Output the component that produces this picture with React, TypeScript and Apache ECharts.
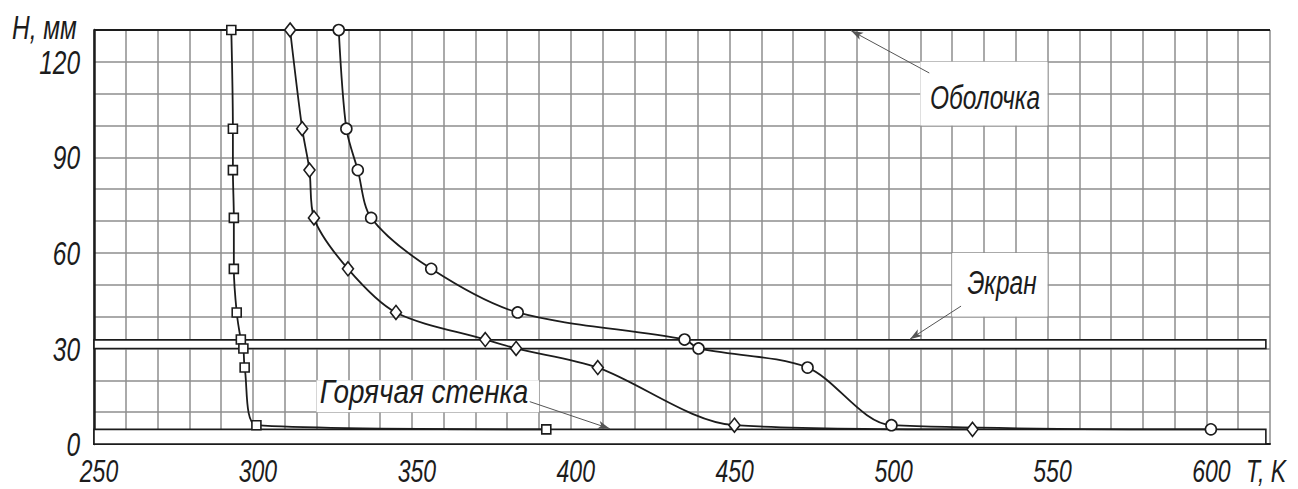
import React, { useEffect, useRef } from "react";
import * as echarts from "echarts";

// Heights of the measuring points, mm
const HEIGHTS = [130, 99, 86, 71, 55, 41.3, 32.8, 30, 24, 5.9, 4.6];
// Temperatures, K
const T_SQUARE = [293.2, 293.7, 293.7, 294.0, 294.0, 294.9, 296.2, 297.0, 297.4, 301.1, 392.3];
const T_DIAMOND = [311.7, 315.5, 317.8, 319.2, 329.9, 345.0, 373.1, 382.8, 408.5, 451.5, 526.4];
const T_CIRCLE = [327.0, 329.4, 333.0, 337.2, 356.1, 383.3, 435.8, 440.2, 474.5, 500.9, 601.4];

const X_TICKS = [250, 300, 350, 400, 450, 500, 550, 600];
const Y_TICKS = [0, 30, 60, 90, 120];

const SCREEN_BAND = [30, 32.7];
const WALL_BAND = [0, 4.6];
const SHELL_H = 130;

const FONT = "'Liberation Sans', Arial, sans-serif";
const INK = "#1c1c1c";
const FS = 34;
const SX = 0.72;

export default function App() {
  const ref = useRef<HTMLDivElement>(null);
  useEffect(() => {
    document.body.style.margin = "0";
    const chart = echarts.init(ref.current!, null, { renderer: "svg" });
    const zip = (ts: number[]) => ts.map((t, i) => [t, HEIGHTS[i]]);
    const lineBase = {
      type: "line",
      smooth: 0.3,
      lineStyle: { color: INK, width: 1.8 },
      itemStyle: { color: "#fff", borderColor: INK, borderWidth: 1.6 },
      z: 3,
      showSymbol: true,
    };
    const txt = (text: string, x: number, y: number, align = "center", sx = SX, fs = FS) => ({
      type: "text",
      z: 100,
      x,
      y,
      scaleX: sx,
      style: {
        text,
        x: 0,
        y: 0,
        fill: INK,
        fontSize: fs,
        fontStyle: "italic",
        fontFamily: FONT,
        textAlign: align,
        textVerticalAlign: "middle",
      },
    });
    chart.setOption({
      animation: false,
      grid: { left: 94, right: 28, top: 30, bottom: 45, containLabel: false },
      xAxis: {
        type: "value",
        min: 250,
        max: 620,
        interval: 10,
        axisLine: { show: true, lineStyle: { color: INK, width: 2 } },
        axisTick: { show: false },
        axisLabel: { show: false },
        splitLine: { show: true, lineStyle: { color: "#8e8e8e", width: 1.5 } },
      },
      yAxis: {
        type: "value",
        min: 0,
        max: 130,
        interval: 10,
        axisLine: { show: true, lineStyle: { color: INK, width: 2.5 } },
        axisTick: { show: false },
        axisLabel: { show: false },
        splitLine: { show: true, lineStyle: { color: "#8e8e8e", width: 1.5 } },
      },
      series: [
        {
          ...lineBase,
          name: "square",
          symbol: "rect",
          symbolSize: 9,
          data: zip(T_SQUARE),
          markArea: {
            silent: true,
            z: 1,
            itemStyle: { color: "#fff", borderColor: INK, borderWidth: 1.6 },
            data: [
              [{ xAxis: 250, yAxis: SCREEN_BAND[0] }, { xAxis: 618.7, yAxis: SCREEN_BAND[1] }],
              [{ xAxis: 250, yAxis: WALL_BAND[0] }, { xAxis: 618.7, yAxis: WALL_BAND[1] }],
              [{ xAxis: 510, yAxis: 100, itemStyle: { borderWidth: 0 } }, { xAxis: 550, yAxis: 120 }],
              [{ xAxis: 520, yAxis: 40, itemStyle: { borderWidth: 0 } }, { xAxis: 550, yAxis: 60 }],
              [{ xAxis: 320, yAxis: 10, itemStyle: { borderWidth: 0 } }, { xAxis: 390, yAxis: 20 }],
            ],
          },
        },
        {
          ...lineBase,
          name: "diamond",
          symbol: "diamond",
          symbolSize: [11, 14],
          data: zip(T_DIAMOND),
          markLine: {
            silent: true,
            z: 1,
            symbol: ["none", "none"],
            label: { show: false },
            lineStyle: { color: INK, width: 2.2, type: "solid" },
            data: [{ yAxis: SHELL_H }],
          },
        },
        {
          ...lineBase,
          name: "circle",
          symbol: "circle",
          symbolSize: 11,
          data: zip(T_CIRCLE),
          markLine: {
            silent: true,
            z: 6,
            symbol: ["none", "arrow"],
            symbolSize: [6, 12],
            label: { show: false },
            lineStyle: { color: "#555", width: 1, type: "solid" },
            data: [
              [{ coord: [512.8, 116.5] }, { coord: [488.2, 129.8] }],
              [{ coord: [522.8, 43.3] }, { coord: [506.7, 32.9] }],
              [{ coord: [387.1, 13.3] }, { coord: [412.3, 4.8] }],
            ],
          },
        },
      ],
    });

    const labels: any[] = [];
    X_TICKS.forEach((v) => {
      const p = chart.convertToPixel({ gridIndex: 0 }, [v, 0]) as number[];
      labels.push(txt(String(v), p[0] + 5, 471, "center", SX, 32));
    });
    Y_TICKS.forEach((v) => {
      const p = chart.convertToPixel({ gridIndex: 0 }, [250, v]) as number[];
      labels.push(txt(String(v), 80, p[1], "right"));
    });
    chart.setOption({
      graphic: [
        ...labels,
        txt("H, мм", 12, 27, "left"),
        txt("T, K", 1246, 471, "left", SX, 32),
        txt("Оболочка", 985, 97),
        txt("Экран", 1002, 282),
        txt("Горячая стенка", 424, 392, "center", 0.82),
      ],
    });
    return () => chart.dispose();
  }, []);
  return <div ref={ref} style={{ width: 1298, height: 489 }} />;
}
